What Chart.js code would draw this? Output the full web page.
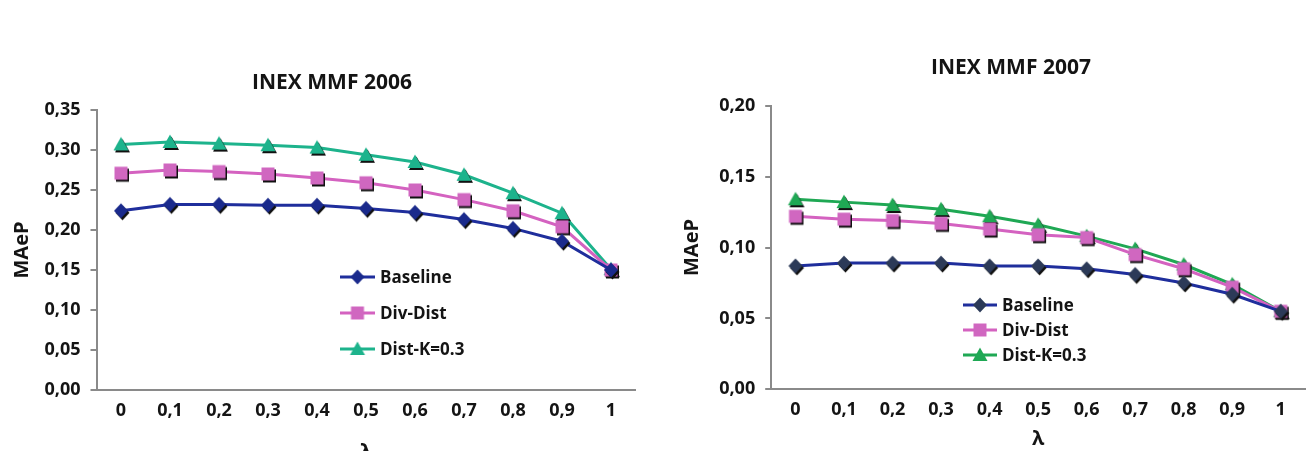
<!DOCTYPE html>
<html><head><meta charset="utf-8">
<script src="https://cdn.jsdelivr.net/npm/chart.js@4/dist/chart.umd.min.js"></script>
<style>
html,body{margin:0;padding:0;background:#fff;width:1308px;height:451px;overflow:hidden;position:relative;}
.box{position:absolute;top:0;}
</style></head><body>
<div class="box" style="left:0;width:660px;height:480px"><canvas id="c1" width="660" height="480"></canvas></div>
<div class="box" style="left:655px;width:660px;height:451px"><canvas id="c2" width="660" height="451"></canvas></div>
<script>
// ---- data ----
const lambdaLabels = ['0','0,1','0,2','0,3','0,4','0,5','0,6','0,7','0,8','0,9','1'];
const seriesNames = ['Baseline','Div-Dist','Dist-K=0.3'];
const titles = ['INEX MMF 2006','INEX MMF 2007'];
const yTitle = 'MAeP';
const xTitle = 'λ';

const baseline2006 = [0.224, 0.232, 0.232, 0.231, 0.231, 0.227, 0.222, 0.213, 0.202, 0.186, 0.150];
const divDist2006  = [0.271, 0.275, 0.273, 0.270, 0.265, 0.259, 0.250, 0.238, 0.224, 0.204, 0.150];
const distK2006    = [0.307, 0.310, 0.308, 0.306, 0.303, 0.294, 0.285, 0.269, 0.246, 0.221, 0.151];

const baseline2007 = [0.087, 0.089, 0.089, 0.089, 0.087, 0.087, 0.085, 0.081, 0.075, 0.067, 0.055];
const divDist2007  = [0.122, 0.120, 0.119, 0.117, 0.113, 0.109, 0.107, 0.095, 0.085, 0.072, 0.055];
const distK2007    = [0.134, 0.132, 0.130, 0.127, 0.122, 0.116, 0.108, 0.099, 0.088, 0.074, 0.055];

const yTicks2006 = {min: 0, max: 0.35, step: 0.05};
const yTicks2007 = {min: 0, max: 0.20, step: 0.05};

// ---- styling ----
const FONT = "'Open Sans', sans-serif";
const TXT = '#141414';
const AXIS = '#8a8a8a';

function marker(shape, fill, shadow) {
  const pad = 11;
  const S = 2 * pad;
  const c = document.createElement('canvas');
  c.width = S; c.height = S;
  const g = c.getContext('2d');
  const path = (ox, oy) => {
    const cx = S / 2 + ox, cy = S / 2 + oy;
    g.beginPath();
    if (shape === 'diamond') {
      g.moveTo(cx, cy - 7.5); g.lineTo(cx + 7, cy); g.lineTo(cx, cy + 7.5); g.lineTo(cx - 7, cy);
    } else if (shape === 'square') {
      g.rect(cx - 6.5, cy - 6.5, 13, 13);
    } else {
      g.moveTo(cx, cy - 7.5); g.lineTo(cx + 7.5, cy + 6); g.lineTo(cx - 7.5, cy + 6);
    }
    g.closePath();
  };
  if (shadow) { path(1.5, 2); g.fillStyle = '#111'; g.fill(); }
  path(0, 0); g.fillStyle = fill; g.fill();
  return c;
}

function ds(label, data, line, shape, fill) {
  return {
    label, data,
    borderColor: line, backgroundColor: fill,
    borderWidth: 3, tension: 0,
    pointStyle: marker(shape, fill, true),
    legendMarker: marker(shape, fill, false),
    pointRadius: 7, pointHoverRadius: 7
  };
}

const overlayPlugin = {
  id: 'overlay',
  afterDraw(chart, args, o) {
    const ctx = chart.ctx;
    ctx.save();
    // title
    ctx.fillStyle = TXT;
    ctx.font = `bold 21px ${FONT}`;
    ctx.textAlign = 'center';
    ctx.textBaseline = 'middle';
    ctx.fillText(o.title, o.titleX, o.titleY);
    // legend
    ctx.font = `bold 17px ${FONT}`;
    ctx.textAlign = 'left';
    chart.data.datasets.forEach((d, i) => {
      const y = o.legY + i * o.legDy;
      ctx.strokeStyle = d.borderColor;
      ctx.lineWidth = 3;
      ctx.beginPath(); ctx.moveTo(o.legX0, y); ctx.lineTo(o.legX1, y); ctx.stroke();
      const m = d.legendMarker;
      ctx.drawImage(m, (o.legX0 + o.legX1) / 2 - m.width / 2, y - m.height / 2);
      ctx.fillStyle = TXT;
      ctx.fillText(d.label, o.legX1 + 5, y + 1);
    });
    ctx.restore();
  }
};

function makeChart(id, datasets, yt, geo) {
  return new Chart(document.getElementById(id), {
    type: 'line',
    data: { labels: lambdaLabels, datasets },
    plugins: [overlayPlugin],
    options: {
      responsive: false, animation: false,
      layout: { padding: { left: 0, right: geo.padRight, top: geo.top, bottom: 0 } },
      plugins: {
        legend: { display: false }, title: { display: false }, tooltip: { enabled: false },
        overlay: geo.overlay
      },
      scales: {
        x: {
          type: 'category', offset: true,
          grid: { display: false },
          border: { display: true, color: AXIS, width: 2 },
          ticks: { color: TXT, font: { family: FONT, size: 18, weight: 'bold' }, padding: 2, maxRotation: 0, autoSkip: false },
          title: { display: true, text: xTitle, color: TXT, font: { family: FONT, size: 20, weight: 'bold' }, padding: { top: 0, bottom: geo.xTitlePad } },
          afterFit(s) { s.height = geo.xHeight; }
        },
        y: {
          min: yt.min, max: yt.max,
          grid: { display: true, drawOnChartArea: false, drawTicks: true, tickLength: 6, color: AXIS, lineWidth: 2 },
          border: { display: true, color: AXIS, width: 2 },
          ticks: {
            stepSize: yt.step, color: TXT, padding: 10,
            font: { family: FONT, size: 18, weight: 'bold' },
            callback: v => v.toFixed(2).replace('.', ',')
          },
          title: { display: true, text: yTitle, color: TXT, font: { family: FONT, size: 20, weight: 'bold' }, padding: { top: geo.yTitlePad, bottom: 0 } },
          afterFit(s) { s.width = geo.yWidth; }
        }
      }
    }
  });
}

makeChart('c1', [
  ds(seriesNames[0], baseline2006, '#1F2E9C', 'diamond', '#1A2A8C'),
  ds(seriesNames[1], divDist2006, '#D462C0', 'square', '#D067C0'),
  ds(seriesNames[2], distK2006, '#1DB38C', 'triangle', '#1DB38C')
], yTicks2006, {
  padRight: 24.5, top: 110, xHeight: 90, yWidth: 96.5, xTitlePad: 16, yTitlePad: 10,
  overlay: { title: titles[0], titleX: 332, titleY: 83, legX0: 340, legX1: 375, legY: 277, legDy: 36 }
});

makeChart('c2', [
  ds(seriesNames[0], baseline2007, '#1F2E9C', 'diamond', '#2C3A58'),
  ds(seriesNames[1], divDist2007, '#D462C0', 'square', '#D067C0'),
  ds(seriesNames[2], distK2007, '#1FA854', 'triangle', '#1FA854')
], yTicks2007, {
  padRight: 4.5, top: 105.7, xHeight: 61.7, yWidth: 116.2, xTitlePad: 0, yTitlePad: 25,
  overlay: { title: titles[1], titleX: 356, titleY: 68, legX0: 308, legX1: 342, legY: 305, legDy: 25 }
});
</script>
</body></html>
